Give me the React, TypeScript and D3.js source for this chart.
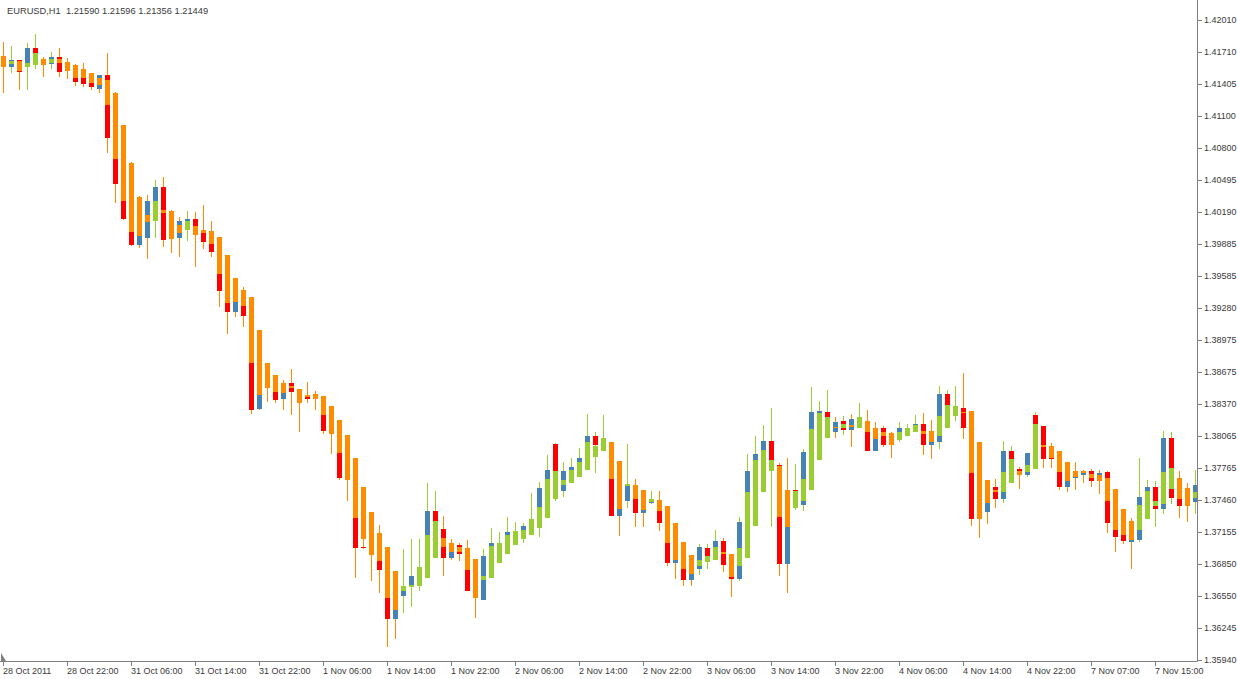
import React from 'react';
import * as d3 from 'd3';

const SYMBOL_TEXT = 'EURUSD,H1  1.21590 1.21596 1.21356 1.21449';

const OPEN = [1.4166,1.4156,1.4163,1.4156,1.4174,1.4163,1.4159,1.4166,1.4160,1.4156,1.4152,1.4148,1.4136,1.4149,1.4089,1.4045,1.4012,1.3988,1.3994,1.4029,1.4043,1.3993,1.3994,1.4007,1.4012,1.4002,1.3990,1.3981,1.3944,1.3924,1.3936,1.3920,1.3832,1.3864,1.3860,1.3842,1.3857,1.3848,1.3845,1.3845,1.3842,1.3822,1.3812,1.3774,1.3767,1.3701,1.3700,1.3700,1.3679,1.3633,1.3655,1.3663,1.3670,1.3680,1.3735,1.3718,1.3691,1.3703,1.3695,1.3654,1.3651,1.3693,1.3694,1.3703,1.3708,1.3713,1.3719,1.3727,1.3757,1.3799,1.3754,1.3767,1.3777,1.3786,1.3806,1.3797,1.3798,1.3731,1.3745,1.3758,1.3733,1.3743,1.3746,1.3724,1.3686,1.3694,1.3670,1.3680,1.3700,1.3693,1.3707,1.3684,1.3671,1.3725,1.3773,1.3789,1.3802,1.3779,1.3685,1.3755,1.3741,1.3791,1.3822,1.3829,1.3810,1.3821,1.3812,1.3816,1.3820,1.3792,1.3814,1.3807,1.3803,1.3808,1.3812,1.3818,1.3798,1.3801,1.3846,1.3833,1.3833,1.3814,1.3728,1.3734,1.3758,1.3747,1.3792,1.3775,1.3769,1.3826,1.3816,1.3793,1.3785,1.3758,1.3767,1.3769,1.3773,1.3764,1.3772,1.3724,1.3713,1.3706,1.3708,1.3749,1.3758,1.3737,1.3805,1.3755,1.3743,1.3744];
const HIGH = [1.4180,1.4176,1.4163,1.4179,1.4188,1.4166,1.4171,1.4174,1.4165,1.4159,1.4160,1.4151,1.4149,1.4170,1.4133,1.4101,1.4066,1.4034,1.4035,1.4049,1.4052,1.4021,1.4014,1.4020,1.4019,1.4026,1.4010,1.3995,1.3978,1.3956,1.3948,1.3938,1.3907,1.3876,1.3864,1.3860,1.3870,1.3851,1.3858,1.3849,1.3844,1.3835,1.3822,1.3807,1.3786,1.3758,1.3734,1.3722,1.3701,1.3678,1.3699,1.3709,1.3709,1.3762,1.3754,1.3731,1.3709,1.3705,1.3708,1.3690,1.3699,1.3719,1.3715,1.3730,1.3725,1.3724,1.3752,1.3763,1.3788,1.3800,1.3782,1.3786,1.3795,1.3827,1.3810,1.3826,1.3801,1.3783,1.3799,1.3766,1.3755,1.3754,1.3754,1.3740,1.3724,1.3706,1.3694,1.3704,1.3704,1.3717,1.3710,1.3695,1.3730,1.3789,1.3806,1.3817,1.3833,1.3781,1.3786,1.3780,1.3794,1.3853,1.3840,1.3850,1.3824,1.3825,1.3827,1.3838,1.3831,1.3820,1.3816,1.3810,1.3820,1.3818,1.3826,1.3828,1.3822,1.3854,1.3850,1.3854,1.3866,1.3830,1.3801,1.3765,1.3766,1.3802,1.3797,1.3777,1.3790,1.3829,1.3816,1.3800,1.3792,1.3782,1.3782,1.3774,1.3775,1.3774,1.3773,1.3756,1.3737,1.3729,1.3786,1.3765,1.3764,1.3811,1.3810,1.3773,1.3762,1.3774];
const LOW = [1.4132,1.4151,1.4135,1.4135,1.4155,1.4147,1.4155,1.4147,1.4145,1.4138,1.4137,1.4135,1.4132,1.4075,1.4027,1.4011,1.3987,1.3985,1.3974,1.3994,1.3986,1.3980,1.3976,1.3991,1.3967,1.3984,1.3976,1.3929,1.3903,1.3919,1.3910,1.3827,1.3831,1.3839,1.3838,1.3831,1.3826,1.3810,1.3838,1.3831,1.3808,1.3789,1.3765,1.3745,1.3672,1.3699,1.3669,1.3658,1.3606,1.3614,1.3639,1.3644,1.3659,1.3672,1.3691,1.3674,1.3689,1.3688,1.3659,1.3634,1.3651,1.3672,1.3686,1.3695,1.3703,1.3705,1.3713,1.3711,1.3729,1.3745,1.3749,1.3762,1.3768,1.3774,1.3771,1.3792,1.3731,1.3712,1.3738,1.3720,1.3720,1.3742,1.3716,1.3683,1.3671,1.3664,1.3664,1.3675,1.3680,1.3689,1.3677,1.3654,1.3669,1.3691,1.3721,1.3753,1.3720,1.3674,1.3658,1.3736,1.3735,1.3755,1.3784,1.3805,1.3805,1.3807,1.3796,1.3814,1.3792,1.3792,1.3796,1.3786,1.3801,1.3806,1.3810,1.3788,1.3785,1.3794,1.3814,1.3821,1.3804,1.3721,1.3710,1.3723,1.3738,1.3743,1.3762,1.3756,1.3768,1.3775,1.3776,1.3776,1.3755,1.3753,1.3755,1.3762,1.3758,1.3751,1.3714,1.3696,1.3704,1.3680,1.3706,1.3728,1.3720,1.3732,1.3742,1.3729,1.3725,1.3732];
const CLOSE = [1.4156,1.4163,1.4152,1.4174,1.4167,1.4159,1.4166,1.4152,1.4154,1.4142,1.4140,1.4137,1.4149,1.4089,1.4045,1.4012,1.3988,1.4000,1.4029,1.4043,1.3992,1.4004,1.4010,1.4012,1.4002,1.3990,1.3981,1.3944,1.3924,1.3937,1.3920,1.3831,1.3845,1.3855,1.3841,1.3855,1.3848,1.3841,1.3842,1.3843,1.3811,1.3812,1.3767,1.3793,1.3700,1.3700,1.3696,1.3679,1.3633,1.3651,1.3662,1.3674,1.3680,1.3735,1.3718,1.3691,1.3703,1.3695,1.3659,1.3661,1.3693,1.3705,1.3703,1.3715,1.3715,1.3721,1.3727,1.3757,1.3774,1.3765,1.3773,1.3777,1.3786,1.3806,1.3798,1.3803,1.3731,1.3738,1.3760,1.3733,1.3741,1.3747,1.3724,1.3686,1.3694,1.3670,1.3680,1.3701,1.3689,1.3707,1.3684,1.3671,1.3725,1.3773,1.3789,1.3802,1.3779,1.3685,1.3737,1.3752,1.3791,1.3829,1.3830,1.3822,1.3820,1.3812,1.3823,1.3822,1.3792,1.3808,1.3798,1.3801,1.3814,1.3813,1.3818,1.3798,1.3806,1.3846,1.3831,1.3828,1.3814,1.3728,1.3737,1.3743,1.3747,1.3792,1.3779,1.3769,1.3790,1.3814,1.3785,1.3785,1.3758,1.3767,1.3772,1.3773,1.3764,1.3771,1.3724,1.3711,1.3707,1.3710,1.3749,1.3758,1.3737,1.3805,1.3748,1.3740,1.3751,1.3760];
const HA_OPEN = [1.4167,1.4159,1.4162,1.4156,1.4158,1.4164,1.4160,1.4164,1.4161,1.4158,1.4155,1.4151,1.4146,1.4144,1.4132,1.4101,1.4065,1.4033,1.4016,1.4010,1.4021,1.4020,1.4007,1.4002,1.4006,1.4002,1.4001,1.3995,1.3978,1.3956,1.3945,1.3938,1.3907,1.3876,1.3864,1.3857,1.3854,1.3851,1.3845,1.3846,1.3844,1.3835,1.3822,1.3807,1.3786,1.3758,1.3734,1.3714,1.3701,1.3678,1.3659,1.3663,1.3664,1.3672,1.3691,1.3710,1.3705,1.3701,1.3700,1.3690,1.3670,1.3672,1.3686,1.3695,1.3703,1.3709,1.3713,1.3719,1.3729,1.3747,1.3760,1.3762,1.3768,1.3774,1.3787,1.3792,1.3801,1.3783,1.3759,1.3760,1.3755,1.3744,1.3746,1.3740,1.3724,1.3706,1.3694,1.3683,1.3687,1.3689,1.3696,1.3695,1.3683,1.3691,1.3721,1.3753,1.3773,1.3778,1.3755,1.3738,1.3745,1.3755,1.3784,1.3805,1.3815,1.3814,1.3817,1.3814,1.3821,1.3814,1.3810,1.3809,1.3803,1.3806,1.3810,1.3811,1.3811,1.3806,1.3814,1.3825,1.3829,1.3830,1.3801,1.3765,1.3755,1.3753,1.3762,1.3773,1.3772,1.3775,1.3798,1.3797,1.3792,1.3782,1.3773,1.3773,1.3770,1.3769,1.3767,1.3756,1.3737,1.3726,1.3717,1.3728,1.3740,1.3742,1.3756,1.3767,1.3757,1.3748];
const HA_CLOSE = [1.4156,1.4162,1.4153,1.4160,1.4170,1.4158,1.4164,1.4160,1.4153,1.4146,1.4146,1.4141,1.4139,1.4120,1.4069,1.4029,1.4000,1.3996,1.4009,1.4029,1.4018,1.3993,1.3999,1.4010,1.3997,1.3999,1.3989,1.3960,1.3933,1.3934,1.3930,1.3876,1.3845,1.3852,1.3848,1.3847,1.3852,1.3838,1.3843,1.3842,1.3826,1.3808,1.3790,1.3765,1.3729,1.3709,1.3694,1.3688,1.3653,1.3641,1.3664,1.3665,1.3682,1.3713,1.3726,1.3701,1.3696,1.3696,1.3679,1.3653,1.3674,1.3702,1.3705,1.3713,1.3716,1.3717,1.3728,1.3739,1.3766,1.3773,1.3765,1.3774,1.3782,1.3801,1.3797,1.3805,1.3766,1.3737,1.3761,1.3747,1.3736,1.3747,1.3735,1.3705,1.3689,1.3680,1.3676,1.3689,1.3693,1.3701,1.3695,1.3673,1.3700,1.3753,1.3784,1.3793,1.3784,1.3730,1.3720,1.3754,1.3766,1.3813,1.3828,1.3824,1.3814,1.3818,1.3815,1.3824,1.3810,1.3804,1.3806,1.3798,1.3810,1.3814,1.3817,1.3808,1.3801,1.3825,1.3836,1.3835,1.3828,1.3771,1.3728,1.3743,1.3753,1.3772,1.3785,1.3769,1.3779,1.3818,1.3796,1.3786,1.3772,1.3764,1.3768,1.3771,1.3767,1.3764,1.3745,1.3717,1.3713,1.3708,1.3741,1.3754,1.3745,1.3772,1.3776,1.3747,1.3740,1.3753];

const PRICE_TICKS = [1.42010,1.41710,1.41405,1.41100,1.40800,1.40495,1.40190,1.39885,1.39585,1.39280,1.38975,1.38675,1.38370,1.38065,1.37765,1.37460,1.37155,1.36850,1.36550,1.36245,1.35940];
const TIME_TICK_BARS = [0,8,16,24,32,40,48,56,64,72,80,88,96,104,112,120,128,136,144];
const TIME_TICK_LABELS = ['28 Oct 2011','28 Oct 22:00','31 Oct 06:00','31 Oct 14:00','31 Oct 22:00','1 Nov 06:00','1 Nov 14:00','1 Nov 22:00','2 Nov 06:00','2 Nov 14:00','2 Nov 22:00','3 Nov 06:00','3 Nov 14:00','3 Nov 22:00','4 Nov 06:00','4 Nov 14:00','4 Nov 22:00','7 Nov 07:00','7 Nov 15:00'];

const W = 1237, H = 679;
const PLOT_RIGHT = 1197;
const PLOT_BOTTOM = 661;
const FONT = '"Liberation Sans", Arial, sans-serif';
const C_HA_UP = '#9ACD32';
const C_HA_DN = '#FF8C00';
const C_UP = '#4682B4';
const C_DN = '#FF0000';
const AXIS = '#7f7f7f';
const TEXT = '#3a3a3a';

export default function App() {
  const x = d3.scaleLinear().domain([0, OPEN.length - 1]).range([3, 3 + 8 * (OPEN.length - 1)]);
  const y = d3.scaleLinear().domain([1.3594, 1.4201]).range([660, 20]);

  const bars = OPEN.map((o, i) => {
    const c = CLOSE[i], ho = HA_OPEN[i], hc = HA_CLOSE[i];
    const hi = Math.max(HIGH[i], o, c, ho, hc);
    const lo = Math.min(LOW[i], o, c, ho, hc);
    return { i, o, c, ho, hc, hi, lo };
  });

  const body = (a: number, b: number) => {
    const top = Math.round(y(Math.max(a, b)));
    const bot = Math.round(y(Math.min(a, b)));
    return { top, h: Math.max(1, bot - top) };
  };

  return (
    <svg width={W} height={H} style={{ position: 'absolute', left: 0, top: 0, background: '#fff' }}>
      <rect x={0} y={0} width={W} height={H} fill="#ffffff" />
      <text x={7} y={14} fontFamily={FONT} fontSize={9.3} fill={TEXT} style={{ whiteSpace: 'pre' }}>{SYMBOL_TEXT}</text>

      {bars.map(b => {
        const cx = Math.round(x(b.i));
        const haUp = b.hc >= b.ho;
        const cUp = b.c >= b.o;
        const wickTop = Math.round(y(b.hi));
        const wickBot = Math.round(y(b.lo));
        const cb = body(b.o, b.c);
        const hb = body(b.ho, b.hc);
        return (
          <g key={b.i}>
            <rect x={cx} y={wickTop} width={1} height={Math.max(1, wickBot - wickTop)} fill={haUp ? C_HA_UP : C_HA_DN} />
            <rect x={cx - 2} y={cb.top} width={5} height={cb.h} fill={cUp ? C_UP : C_DN} />
            <rect x={cx - 2} y={hb.top} width={5} height={hb.h} fill={haUp ? C_HA_UP : C_HA_DN} />
          </g>
        );
      })}

      {/* frame */}
      <line x1={PLOT_RIGHT + 0.5} y1={0} x2={PLOT_RIGHT + 0.5} y2={PLOT_BOTTOM + 0.5} stroke={AXIS} />
      <line x1={0} y1={PLOT_BOTTOM + 0.5} x2={PLOT_RIGHT + 0.5} y2={PLOT_BOTTOM + 0.5} stroke={AXIS} />
      <path d={`M1,${PLOT_BOTTOM - 8} L1,${PLOT_BOTTOM} L6,${PLOT_BOTTOM} Z`} fill={AXIS} />

      {PRICE_TICKS.map(p => {
        const yy = Math.round(y(p));
        return (
          <g key={p}>
            <line x1={PLOT_RIGHT + 1} x2={PLOT_RIGHT + 5} y1={yy + 0.5} y2={yy + 0.5} stroke={AXIS} />
            <text x={PLOT_RIGHT + 7} y={yy + 0.5} dominantBaseline="middle" fontFamily={FONT} fontSize={9} fill={TEXT}>{p.toFixed(5)}</text>
          </g>
        );
      })}

      {TIME_TICK_BARS.map((bi, k) => {
        const xx = Math.round(x(bi));
        return (
          <g key={bi}>
            <line x1={xx + 0.5} x2={xx + 0.5} y1={PLOT_BOTTOM + 1} y2={PLOT_BOTTOM + 5} stroke={AXIS} />
            <text x={xx} y={674} fontFamily={FONT} fontSize={9} fill={TEXT}>{TIME_TICK_LABELS[k]}</text>
          </g>
        );
      })}
    </svg>
  );
}
